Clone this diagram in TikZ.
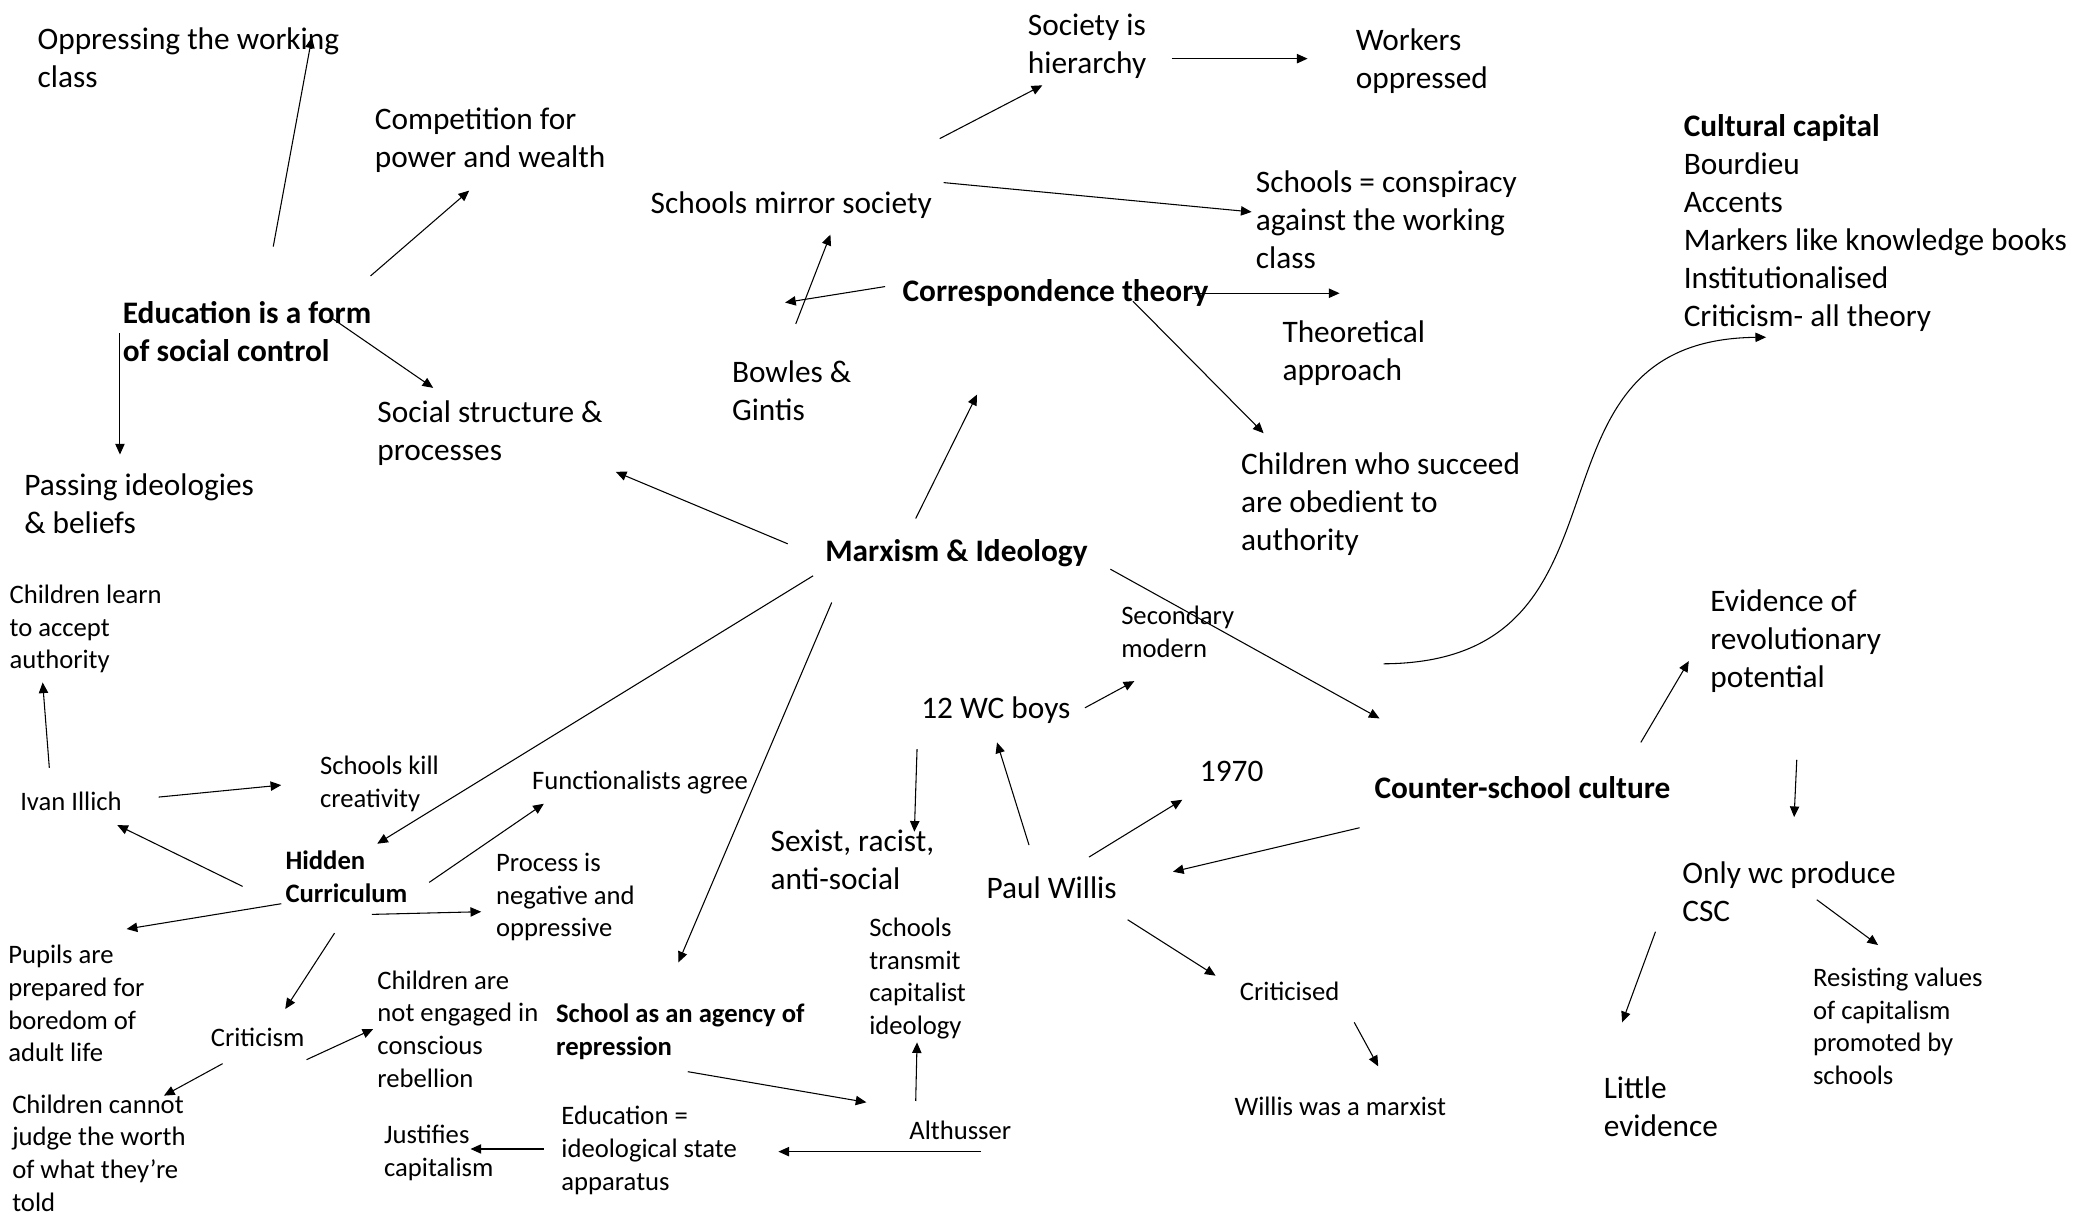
\documentclass[tikz,border=0pt]{standalone}
\usepackage{fontspec}
\setmainfont{Carlito}
\usepackage{tikz}
\usetikzlibrary{arrows.meta}
\newcommand{\mapbig}{\fontsize{23.5}{28.5}\selectfont}
\newcommand{\mapsmall}{\fontsize{20}{24.5}\selectfont}

\begin{document}
\begin{tikzpicture}[
    x=1pt, y=-1pt,
    % Node styles
    bigtext/.style={anchor=west, inner sep=0pt, align=left, font=\mapbig},
    smalltext/.style={anchor=west, inner sep=0pt, align=left, font=\mapsmall},
    keytext/.style={bigtext, font=\mapbig\bfseries},
    subkey/.style={smalltext, font=\mapsmall\bfseries},
    arr/.style={-{Triangle[length=8pt, width=7pt]}, line width=0.8pt},
]
\useasboundingbox (0,0) rectangle (1568,918);

% Education as social control
\node[keytext] (edu) at (92,249) {Education is a form\\of social control};
\node[bigtext] (opp) at (28,43) {Oppressing the working\\class};
\node[bigtext] (comp) at (281,105) {Competition for\\power and wealth};
\node[bigtext] (soc) at (283,325) {Social structure \&\\processes};
\node[bigtext] (pass) at (18,378) {Passing ideologies\\\& beliefs};

\draw[arr] ([shift={(113,-64)}]edu.west) -- ([shift={(206,-15)}]opp.west);
\draw[arr] ([shift={(186,-42)}]edu.west) -- ([shift={(71,38)}]comp.west);
\draw[arr] ([shift={(156,-11)}]edu.west) -- ([shift={(42,-34)}]soc.west);
\draw[arr] ([shift={(-2,1)}]edu.west) -- ([shift={(72,-37)}]pass.west);

% Correspondence theory
\node[keytext] (corr) at (677,220) {Correspondence theory};
\node[bigtext] (mirror) at (488,154) {Schools mirror society};
\node[bigtext] (hier) at (771,35) {Society is\\hierarchy};
\node[bigtext] (workers) at (1017,46) {Workers\\oppressed};
\node[bigtext] (consp) at (942,165) {Schools = conspiracy\\against the working\\class};
\node[bigtext] (theo) at (962,265) {Theoretical\\approach};
\node[bigtext] (bowles) at (549,293) {Bowles \&\\Gintis};
\node[bigtext] (succ) at (931,378) {Children who succeed\\are obedient to\\authority};

\draw[arr] ([shift={(-13,-5)}]corr.west) -- ([shift={(40,-66)}]bowles.west);
\draw[arr] ([shift={(48,-50)}]bowles.west) -- ([shift={(135,22)}]mirror.west);
\draw[arr] ([shift={(217,-50)}]mirror.west) -- ([shift={(11,29)}]hier.west);
\draw[arr] ([shift={(108,9)}]hier.west) -- ([shift={(-36,-2)}]workers.west);
\draw[arr] ([shift={(220,-17)}]mirror.west) -- ([shift={(-3,-6)}]consp.west);
\draw[arr] ([shift={(217,0)}]corr.west) -- ([shift={(43,-45)}]theo.west);
\draw[arr] ([shift={(173,6)}]corr.west) -- ([shift={(17,-53)}]succ.west);

% Centre
\node[keytext] (marx) at (619,415) {Marxism \& Ideology};

\draw[arr] ([shift={(-28,-7)}]marx.west) -- ([shift={(179,29)}]soc.west);
\draw[arr] ([shift={(68,-26)}]marx.west) -- ([shift={(56,76)}]corr.west);

% Counter-school culture
\node[keytext] (csc) at (1031,591) {Counter-school culture};
\node[bigtext] (cult) at (1263,167) {\textbf{Cultural capital}\\Bourdieu\\Accents\\Markers like knowledge books\\Institutionalised\\Criticism- all theory};
\node[bigtext] (evid) at (1283,481) {Evidence of\\revolutionary\\potential};
\node[bigtext] (only) at (1262,669) {Only wc produce\\CSC};
\node[smalltext] (resist) at (1360,770) {Resisting values\\of capitalism\\promoted by\\schools};
\node[bigtext] (little) at (1203,830) {Little\\evidence};

\draw[arr] ([shift={(214,12)}]marx.west) -- ([shift={(4,-52)}]csc.west);
\draw[arr] ([shift={(7,-93)}]csc.west) .. controls +(202,-1) and +(-195,2) .. ([shift={(62,86)}]cult.west);
\draw[arr] ([shift={(200,-34)}]csc.west) -- ([shift={(-16,15)}]evid.west);
\draw[arr] ([shift={(65,89)}]evid.west) -- ([shift={(84,-56)}]only.west);
\draw[arr] ([shift={(101,6)}]only.west) -- ([shift={(49,-61)}]resist.west);
\draw[arr] ([shift={(-20,30)}]only.west) -- ([shift={(14,-63)}]little.west);

% Paul Willis
\node[bigtext] (willis) at (740,666) {Paul Willis};
\node[bigtext] (boys) at (691,533) {12 WC boys};
\node[smalltext] (second) at (841,474) {Secondary\\modern};
\node[bigtext] (yr) at (900,579) {1970};
\node[bigtext] (sexist) at (578,645) {Sexist, racist,\\anti-social};
\node[smalltext] (critd) at (930,744) {Criticised};
\node[smalltext] (marxist) at (926,830) {Willis was a marxist};

\draw[arr] ([shift={(-11,30)}]csc.west) -- ([shift={(140,-12)}]willis.west);
\draw[arr] ([shift={(32,-32)}]willis.west) -- ([shift={(57,24)}]boys.west);
\draw[arr] ([shift={(77,-23)}]willis.west) -- ([shift={(-13,21)}]yr.west);
\draw[arr] ([shift={(106,24)}]willis.west) -- ([shift={(-18,-12)}]critd.west);
\draw[arr] ([shift={(86,23)}]critd.west) -- ([shift={(108,-30)}]marxist.west);
\draw[arr] ([shift={(123,-2)}]boys.west) -- ([shift={(10,37)}]second.west);
\draw[arr] ([shift={(-3,29)}]boys.west) -- ([shift={(108,-21)}]sexist.west);

% School as an agency of repression
\node[subkey] (agency) at (417,774) {School as an agency of\\repression};
\node[smalltext] (alth) at (682,848) {Althusser};
\node[smalltext] (transmit) at (652,734) {Schools\\transmit\\capitalist\\ideology};
\node[smalltext] (isa) at (421,863) {Education =\\ideological state\\apparatus};
\node[smalltext] (just) at (288,865) {Justifies\\capitalism};

\draw[arr] ([shift={(5,37)}]marx.west) -- ([shift={(92,-52)}]agency.west);
\draw[arr] ([shift={(99,30)}]agency.west) -- ([shift={(-32,-21)}]alth.west);
\draw[arr] ([shift={(5,-22)}]alth.west) -- ([shift={(36,48)}]transmit.west);
\draw[arr] ([shift={(54,16)}]alth.west) -- ([shift={(163,1)}]isa.west);
\draw[arr] ([shift={(-13,-1)}]isa.west) -- ([shift={(65,-3)}]just.west);

% Hidden curriculum
\node[subkey] (hidden) at (214,658) {Hidden\\Curriculum};
\node[smalltext] (illich) at (15,601) {Ivan Illich};
\node[smalltext] (learn) at (7,472) {Children learn\\to accept\\authority};
\node[smalltext] (kill) at (240,588) {Schools kill\\creativity};
\node[smalltext] (func) at (399,587) {Functionalists agree};
\node[smalltext] (process) at (372,673) {Process is\\negative and\\oppressive};
\node[smalltext] (pupils) at (6,753) {Pupils are\\prepared for\\boredom of\\adult life};
\node[smalltext] (crit) at (158,778) {Criticism};
\node[smalltext] (noteng) at (283,772) {Children are\\not engaged in\\conscious\\rebellion};
\node[smalltext] (cannot) at (9,865) {Children cannot\\judge the worth\\of what they’re\\told};

\draw[arr] ([shift={(-9,17)}]marx.west) -- ([shift={(69,-25)}]hidden.west);
\draw[arr] ([shift={(-32,7)}]hidden.west) -- ([shift={(73,18)}]illich.west);
\draw[arr] ([shift={(22,-25)}]illich.west) -- ([shift={(25,40)}]learn.west);
\draw[arr] ([shift={(104,-3)}]illich.west) -- ([shift={(-29,1)}]kill.west);
\draw[arr] ([shift={(108,4)}]hidden.west) -- ([shift={(9,16)}]func.west);
\draw[arr] ([shift={(65,28)}]hidden.west) -- ([shift={(-11,11)}]process.west);
\draw[arr] ([shift={(-3,20)}]hidden.west) -- ([shift={(89,-56)}]pupils.west);
\draw[arr] ([shift={(37,42)}]hidden.west) -- ([shift={(56,-21)}]crit.west);
\draw[arr] ([shift={(72,17)}]crit.west) -- ([shift={(-3,0)}]noteng.west);
\draw[arr] ([shift={(9,20)}]crit.west) -- ([shift={(114,-43)}]cannot.west);

\end{tikzpicture}
\end{document}
